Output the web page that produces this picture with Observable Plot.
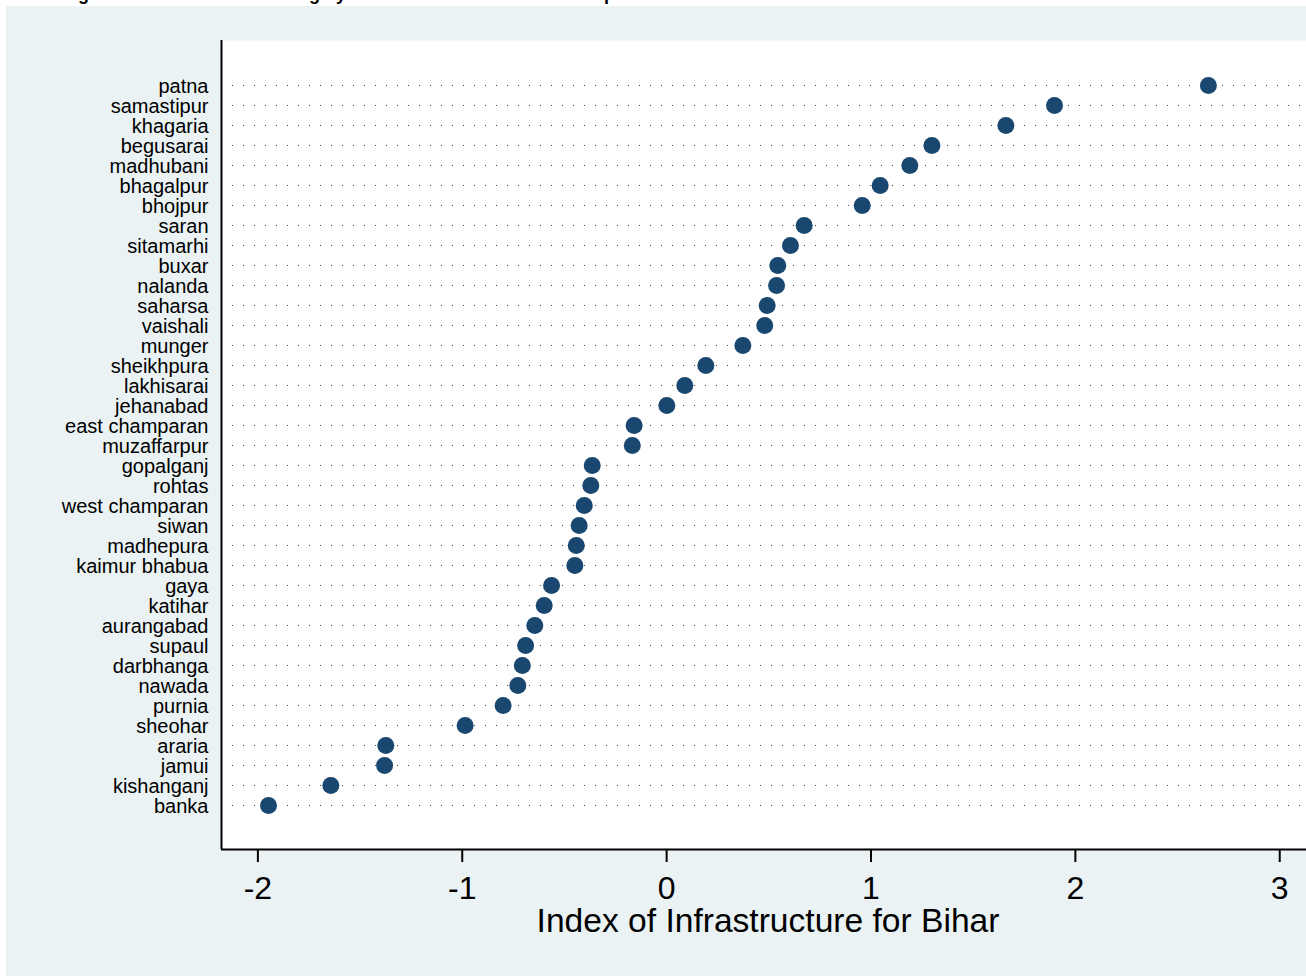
<!DOCTYPE html>
<html>
<head>
<meta charset="utf-8">
<script src="https://cdn.jsdelivr.net/npm/d3@7"></script>
<script src="https://cdn.jsdelivr.net/npm/@observablehq/plot@0.6"></script>
<style>
  html, body { margin: 0; padding: 0; background: #ffffff; width: 1306px; height: 976px; overflow: hidden; }
  #bg { position: absolute; left: 6px; top: 6px; width: 1300px; height: 970px; background: #EAF2F3; }
  #title { position: absolute; left: 62px; top: -15px; font: bold 18px/18px "Liberation Sans", Arial, sans-serif; color: #000; white-space: nowrap; }
  #chart { position: absolute; left: 0; top: 0; }
</style>
</head>
<body>
<div id="bg"></div>
<div id="title">Figure 6: District-wise ranking by index of infrastructure development.</div>
<div id="chart"></div>
<script>
const districts = ["patna","samastipur","khagaria","begusarai","madhubani","bhagalpur","bhojpur","saran","sitamarhi","buxar","nalanda","saharsa","vaishali","munger","sheikhpura","lakhisarai","jehanabad","east champaran","muzaffarpur","gopalganj","rohtas","west champaran","siwan","madhepura","kaimur bhabua","gaya","katihar","aurangabad","supaul","darbhanga","nawada","purnia","sheohar","araria","jamui","kishanganj","banka"];
const infraIndex = [2.651,1.898,1.660,1.298,1.190,1.045,0.957,0.673,0.606,0.544,0.538,0.492,0.480,0.373,0.192,0.089,0.001,-0.159,-0.168,-0.364,-0.371,-0.403,-0.428,-0.442,-0.449,-0.563,-0.599,-0.645,-0.690,-0.706,-0.728,-0.800,-0.986,-1.374,-1.380,-1.643,-1.948];
const xTicks = [-2,-1,0,1,2,3];
const xDomain = [-2.178, 3.131];
const yDomain = [38.2, -2.25];
const axisTitle = "Index of Infrastructure for Bihar";

const ranks = districts.map((d, i) => i);
const data = districts.map((d, i) => ({district: d, rank: i, value: infraIndex[i]}));

const chart = Plot.plot({
  width: 1306,
  height: 976,
  marginLeft: 221,
  marginTop: 40,
  marginRight: 0,
  marginBottom: 127,
  style: {background: "transparent", fontFamily: "'Liberation Sans', Arial, sans-serif", color: "#000"},
  x: {domain: xDomain},
  y: {domain: yDomain},
  marks: [
    Plot.frame({fill: "white", stroke: null}),
    Plot.ruleY(ranks, {y: d => d, stroke: "#444", strokeWidth: 1, strokeDasharray: "1,10", strokeDashoffset: -11}),
    Plot.dot(data, {x: "value", y: "rank", r: 8.5, fill: "#1A476F", stroke: null}),
    Plot.ruleX([xDomain[0]], {stroke: "#000", strokeWidth: 2}),
    Plot.ruleY([yDomain[0]], {stroke: "#000", strokeWidth: 2}),
    Plot.axisY({ticks: ranks, tickFormat: i => districts[i], tickSize: 0, tickPadding: 13, fontSize: 20, dy: 1.5, label: null}),
    Plot.axisX({ticks: xTicks, tickFormat: d => String(d), tickSize: 13, tickPadding: 14, strokeWidth: 2, fontSize: 32, label: null}),
    Plot.text([axisTitle], {frameAnchor: "bottom", dy: 82, dx: 4, fontSize: 33.6, fill: "#000"})
  ]
});
document.getElementById("chart").appendChild(chart);
</script>
</body>
</html>
